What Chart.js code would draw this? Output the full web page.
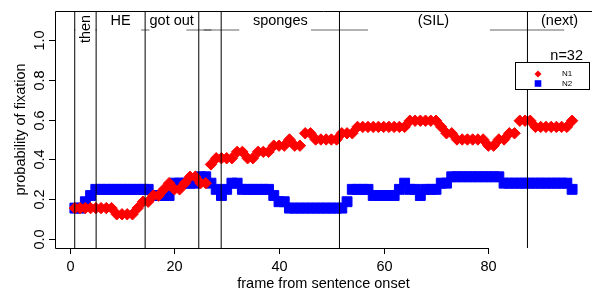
<!DOCTYPE html>
<html>
<head>
<meta charset="utf-8">
<script src="https://cdn.jsdelivr.net/npm/chart.js@4.4.1/dist/chart.umd.min.js"></script>
<style>
  html, body { margin: 0; padding: 0; background: #fff; }
  #wrap { width: 592px; height: 290px; }
</style>
</head>
<body>
<div id="wrap"><canvas id="fixChart" width="592" height="290"></canvas></div>
<script>
// frames from sentence onset
var frames = [1, 2, 3, 4, 5, 6, 7, 8, 9, 10, 11, 12, 13, 14, 15, 16, 17, 18, 19, 20,
  21, 22, 23, 24, 25, 26, 27, 28, 29, 30, 31, 32, 33, 34, 35, 36, 37, 38, 39, 40,
  41, 42, 43, 44, 45, 46, 47, 48, 49, 50, 51, 52, 53, 54, 55, 56, 57, 58, 59, 60,
  61, 62, 63, 64, 65, 66, 67, 68, 69, 70, 71, 72, 73, 74, 75, 76, 77, 78, 79, 80,
  81, 82, 83, 84, 85, 86, 87, 88, 89, 90, 91, 92, 93, 94, 95, 96];

// probability of fixation, N1 (red) and N2 (blue)
var n1 = [0.156, 0.156, 0.156, 0.156, 0.156, 0.156, 0.156, 0.156, 0.125, 0.125,
  0.125, 0.125, 0.156, 0.188, 0.188, 0.219, 0.219, 0.25, 0.281, 0.25,
  0.25, 0.281, 0.313, 0.313, 0.281, 0.281, 0.375, 0.406, 0.406, 0.406,
  0.406, 0.438, 0.438, 0.406, 0.406, 0.438, 0.438, 0.438, 0.469, 0.469,
  0.469, 0.5, 0.469, 0.469, 0.531, 0.531, 0.5, 0.5, 0.5, 0.5,
  0.5, 0.531, 0.531, 0.531, 0.563, 0.563, 0.563, 0.563, 0.563, 0.563,
  0.563, 0.563, 0.563, 0.563, 0.594, 0.594, 0.594, 0.594, 0.594, 0.594,
  0.563, 0.531, 0.531, 0.5, 0.5, 0.5, 0.5, 0.5, 0.5, 0.469,
  0.469, 0.5, 0.5, 0.531, 0.531, 0.594, 0.594, 0.594, 0.563, 0.563,
  0.563, 0.563, 0.563, 0.563, 0.563, 0.594];

var n2 = [0.156, 0.156, 0.188, 0.219, 0.25, 0.25, 0.25, 0.25, 0.25, 0.25,
  0.25, 0.25, 0.25, 0.25, 0.25, 0.219, 0.219, 0.219, 0.219, 0.281,
  0.281, 0.281, 0.281, 0.281, 0.313, 0.313, 0.281, 0.25, 0.219, 0.25,
  0.281, 0.281, 0.25, 0.25, 0.25, 0.25, 0.25, 0.25, 0.219, 0.188,
  0.188, 0.156, 0.156, 0.156, 0.156, 0.156, 0.156, 0.156, 0.156, 0.156,
  0.156, 0.156, 0.188, 0.25, 0.25, 0.25, 0.25, 0.219, 0.219, 0.219,
  0.219, 0.219, 0.25, 0.281, 0.25, 0.25, 0.219, 0.25, 0.25, 0.25,
  0.281, 0.281, 0.313, 0.313, 0.313, 0.313, 0.313, 0.313, 0.313, 0.313,
  0.313, 0.313, 0.281, 0.281, 0.281, 0.281, 0.281, 0.281, 0.281, 0.281,
  0.281, 0.281, 0.281, 0.281, 0.281, 0.25];

var xTicks = [0, 20, 40, 60, 80];
var yTicks = [0, 0.2, 0.4, 0.6, 0.8, 1.0];
var yTickLabels = ['0.0', '0.2', '0.4', '0.6', '0.8', '1.0'];

// word onsets (frames) and their spread
var boundaries = [0.97, 5.06, 14.42, 24.67, 28.95, 51.55, 87.47];
var boundaryLo = [0.85, 4.9, 13.66, 22.3, 25.6, 46.1, 80.3];
var boundaryHi = [1.1, 5.2, 15.25, 27.1, 32.4, 57.0, 94.5];

var words = ['then', 'HE', 'got out', 'sponges', '(SIL)', '(next)'];
var wordPos = [3.0, 9.74, 19.5, 40.25, 69.5, 93.6];

var FONT = "'Liberation Sans', Arial, sans-serif";

function px(n) { return n + 'px ' + FONT; }

var rStyle = {
  id: 'rStyle',
  afterDatasetsDraw: function(chart) {
    var ctx = chart.ctx;
    var a = chart.chartArea;
    var xs = chart.scales.x, ys = chart.scales.y;
    ctx.save();
    ctx.fillStyle = '#000';
    ctx.strokeStyle = '#000';
    ctx.lineWidth = 1;

    // vertical lines at word onsets
    boundaries.forEach(function(b) {
      var x = xs.getPixelForValue(b);
      ctx.beginPath();
      ctx.moveTo(x, a.top);
      ctx.lineTo(x, a.bottom);
      ctx.stroke();
    });

    // spread of onsets
    ctx.strokeStyle = 'rgba(0,0,0,0.6)';
    for (var i = 0; i < boundaries.length; i++) {
      var x0 = xs.getPixelForValue(boundaryLo[i]);
      var x1 = xs.getPixelForValue(boundaryHi[i]);
      ctx.beginPath();
      ctx.moveTo(x0, 30);
      ctx.lineTo(x1, 30);
      ctx.stroke();
    }
    ctx.strokeStyle = '#000';

    // box: top, left, bottom
    ctx.beginPath();
    ctx.moveTo(a.right, a.top + 0.5);
    ctx.lineTo(a.left + 0.5, a.top + 0.5);
    ctx.lineTo(a.left + 0.5, a.bottom + 0.5);
    ctx.lineTo(xs.getPixelForValue(xTicks[xTicks.length - 1]), a.bottom + 0.5);
    ctx.stroke();

    // x axis ticks and labels
    ctx.font = px(14.5);
    ctx.textAlign = 'center';
    ctx.textBaseline = 'top';
    xTicks.forEach(function(t) {
      var x = Math.round(xs.getPixelForValue(t)) + 0.5;
      ctx.beginPath();
      ctx.moveTo(x, a.bottom);
      ctx.lineTo(x, a.bottom + 6);
      ctx.stroke();
      ctx.fillText(String(t), x, 260);
    });
    ctx.textBaseline = 'alphabetic';
    ctx.fillText('frame from sentence onset', (a.left + a.right) / 2, 288);

    // y axis ticks and labels (rotated like R)
    yTicks.forEach(function(t, k) {
      var y = Math.round(ys.getPixelForValue(t)) + 0.5;
      ctx.beginPath();
      ctx.moveTo(a.left, y);
      ctx.lineTo(a.left - 6, y);
      ctx.stroke();
      ctx.save();
      ctx.translate(43.5, y);
      ctx.rotate(-Math.PI / 2);
      ctx.fillText(yTickLabels[k], 0, 0);
      ctx.restore();
    });
    ctx.save();
    ctx.translate(25, (a.top + a.bottom) / 2);
    ctx.rotate(-Math.PI / 2);
    ctx.fillText('probability of fixation', 0, 0);
    ctx.restore();

    // word labels along the top
    for (var w = 0; w < words.length; w++) {
      var wx = xs.getPixelForValue(wordPos[w]);
      if (words[w] === 'then') {
        ctx.save();
        ctx.translate(wx + 5, 29);
        ctx.rotate(-Math.PI / 2);
        ctx.fillText(words[w], 0, 0);
        ctx.restore();
      } else {
        ctx.fillText(words[w], wx, 25);
      }
    }

    ctx.textAlign = 'right';
    ctx.fillText('n=32', 583, 60);

    // legend
    ctx.fillStyle = '#fff';
    ctx.fillRect(515, 62.5, 74, 27);
    ctx.strokeRect(515.5, 62.5, 74, 27);
    var sets = chart.data.datasets;
    var ly = [74, 83.5];
    ctx.font = px(8);
    ctx.textAlign = 'left';
    ctx.textBaseline = 'middle';
    sets.forEach(function(ds, k) {
      ctx.fillStyle = ds.backgroundColor;
      ctx.beginPath();
      if (ds.pointStyle === 'rectRot') {
        ctx.moveTo(538 - 3.5, ly[k]);
        ctx.lineTo(538, ly[k] - 3.5);
        ctx.lineTo(538 + 3.5, ly[k]);
        ctx.lineTo(538, ly[k] + 3.5);
        ctx.closePath();
      } else {
        ctx.rect(538 - 3.3, ly[k] - 3.3, 6.6, 6.6);
      }
      ctx.fill();
      ctx.fillStyle = '#000';
      ctx.fillText(ds.label, 562, ly[k]);
    });
    ctx.restore();
  }
};

function pts(vals) {
  return frames.map(function(f, i) { return { x: f, y: vals[i] }; });
}

new Chart(document.getElementById('fixChart').getContext('2d'), {
  type: 'scatter',
  data: {
    datasets: [{
      label: 'N1',
      data: pts(n1),
      pointStyle: 'rectRot',
      pointRadius: 5.7,
      backgroundColor: '#ff0000',
      borderColor: '#ff0000',
      borderWidth: 1
    }, {
      label: 'N2',
      data: pts(n2),
      pointStyle: 'rect',
      pointRadius: 7,
      backgroundColor: '#0000ff',
      borderColor: '#0000ff',
      borderWidth: 1
    }]
  },
  options: {
    responsive: false,
    animation: false,
    devicePixelRatio: 1,
    events: [],
    layout: { autoPadding: false, padding: { left: 55, top: 11, right: 0, bottom: 42 } },
    scales: {
      x: { type: 'linear', min: -2.8, max: 99.8, display: false },
      y: { type: 'linear', min: -0.044, max: 1.144, display: false }
    },
    plugins: {
      legend: { display: false },
      tooltip: { enabled: false }
    }
  },
  plugins: [rStyle]
});
</script>
</body>
</html>
